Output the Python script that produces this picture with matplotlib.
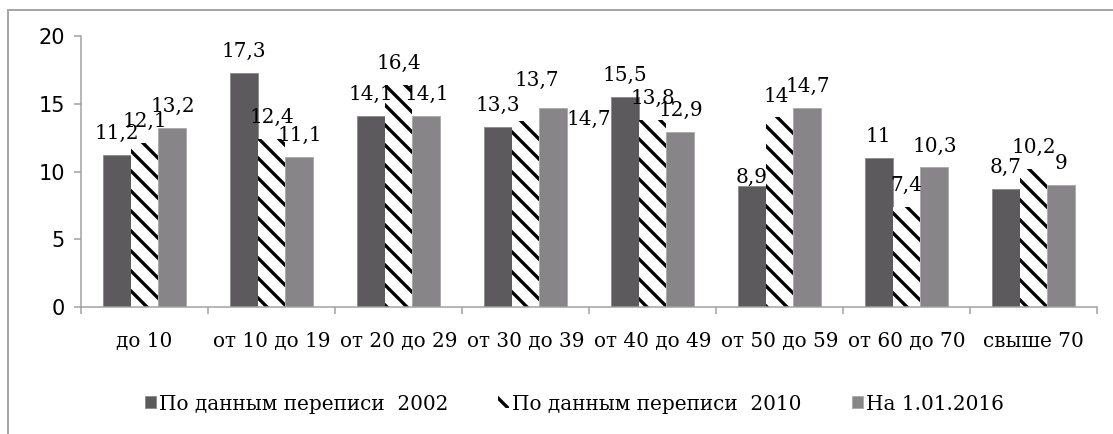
import numpy as np
import matplotlib
matplotlib.use("Agg")
import matplotlib.pyplot as plt
from matplotlib.lines import Line2D

# Age groups and shares (%)
categories = ['до 10', 'от 10 до 19', 'от 20 до 29', 'от 30 до 39',
              'от 40 до 49', 'от 50 до 59', 'от 60 до 70', 'свыше 70']
census_2002 = [11.2, 17.3, 14.1, 13.3, 15.5, 8.9, 11.0, 8.7]
census_2010 = [12.1, 12.4, 16.4, 13.7, 13.8, 14.0, 7.4, 10.2]
on_2016 = [13.2, 11.1, 14.1, 14.7, 12.9, 14.7, 10.3, 9.0]
series_names = ['По данным переписи  2002', 'По данным переписи  2010', 'На 1.01.2016']

DPI = 120
plt.rcParams['hatch.linewidth'] = 2.0

fig = plt.figure(figsize=(1113 / DPI, 434 / DPI), dpi=DPI)
ax = fig.add_axes([81 / 1113, 1 - 307 / 434, (1097 - 81) / 1113, (307 - 36) / 434])

x = np.arange(len(categories))
w = 0.22
b1 = ax.bar(x - w, census_2002, w, color='#5c5a5d', edgecolor='#8a8a8a', linewidth=0.5,
            label=series_names[0])
b2 = ax.bar(x, census_2010, w, color='white', edgecolor='black', linewidth=0,
            hatch='\\\\', label=series_names[1])
b3 = ax.bar(x + w, on_2016, w, color='#878587', edgecolor='#a8a8a8', linewidth=0.5,
            label=series_names[2])


def fmt(v):
    return ('%g' % v).replace('.', ',')


# label offsets in pixels (dx, dy) -- most sit just above the bar
label_font = dict(family='DejaVu Serif', size=12, color='black')
for bars, vals, shift in [(b1, census_2002, {5: (0, 3)}),
                          (b2, census_2010, {3: (11, 35), 5: (-3, 15)}),
                          (b3, on_2016, {3: (35, -17)})]:
    for i, (rect, v) in enumerate(zip(bars, vals)):
        dx, dy = shift.get(i, (0, 16))
        ax.annotate(fmt(v), (rect.get_x() + rect.get_width() / 2, v),
                    xytext=(dx, dy), textcoords='offset pixels',
                    ha='center', va='baseline', **label_font)

ax.set_xlim(-0.5, len(categories) - 0.5)
ax.set_ylim(0, 20)
ax.set_yticks([0, 5, 10, 15, 20])
ax.set_xticks(x)
ax.set_xticklabels(categories, family='DejaVu Serif', fontsize=12)
ax.set_xticks(np.arange(-0.5, len(categories)), minor=True)
ax.tick_params(axis='x', which='major', length=0, pad=15)
ax.tick_params(axis='x', which='minor', length=4.2, color='#a0a0a0', width=0.9)
ax.tick_params(axis='y', length=4.2, color='#a0a0a0', width=0.9, pad=5.5, labelsize=12.5)
for lab in ax.get_yticklabels():
    lab.set_family('DejaVu Sans')

for side in ['top', 'right']:
    ax.spines[side].set_visible(False)
for side in ['left', 'bottom']:
    ax.spines[side].set_color('#a0a0a0')
    ax.spines[side].set_linewidth(0.9)

leg = fig.legend(handles=[b1, b2, b3], loc='center', bbox_to_anchor=(0.516, 1 - 404 / 434),
                 ncol=3, frameon=False, handlelength=0.55, handleheight=0.55,
                 handletextpad=0.15, columnspacing=2.5,
                 prop=dict(family='DejaVu Serif', size=12))

# outer chart frame (cropped at right and bottom)
fx, fy = 8 / 1113, 1 - 10 / 434
fig.add_artist(Line2D([fx, fx], [0, fy], transform=fig.transFigure, color='#a6a6a6', lw=1.2))
fig.add_artist(Line2D([fx, 1], [fy, fy], transform=fig.transFigure, color='#a6a6a6', lw=1.2))

fig.savefig('out.png', dpi=DPI)
